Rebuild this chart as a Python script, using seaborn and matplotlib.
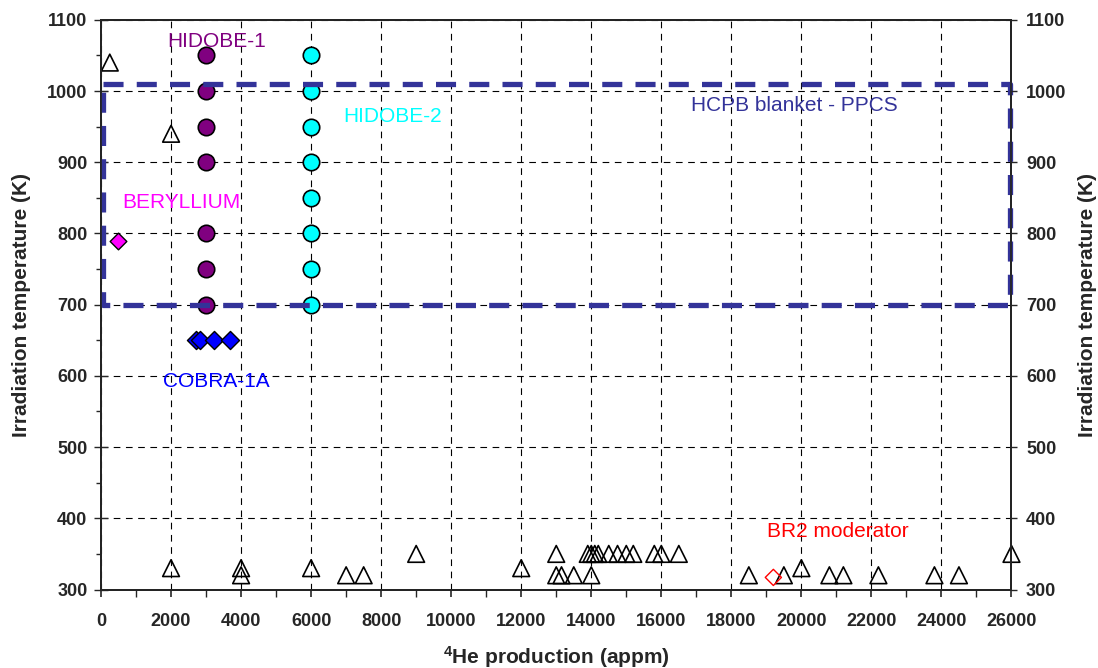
import matplotlib
matplotlib.use("Agg")
import matplotlib.pyplot as plt
import seaborn as sns
from matplotlib.ticker import MultipleLocator

# ---------------- data ----------------
tri_x = [250, 2000, 2000, 4000, 4000, 6000, 7000, 7500, 9000, 12000,
         13000, 13000, 13150, 13500, 14000,
         13900, 14000, 14100, 14200, 14500, 14750, 15000, 15200, 15800, 16000, 16500,
         18500, 19500, 20000, 20800, 21200, 22200, 23800, 24500, 26000]
tri_y = [1040, 940, 330, 330, 320, 330, 320, 320, 350, 330,
         350, 320, 320, 320, 320,
         350, 350, 350, 350, 350, 350, 350, 350, 350, 350, 350,
         320, 320, 330, 320, 320, 320, 320, 320, 350]

hidobe1_x = [3000, 3000, 3000, 3000, 3000, 3000, 3000]
hidobe1_y = [1050, 1000, 950, 900, 800, 750, 700]

hidobe2_x = [6000, 6000, 6000, 6000, 6000, 6000, 6000, 6000]
hidobe2_y = [1050, 1000, 950, 900, 850, 800, 750, 700]

cobra_x = [2700, 2830, 3230, 3680]
cobra_y = [650, 650, 650, 650]

beryllium_x = [480]
beryllium_y = [790]

br2_x = [19200]
br2_y = [317]

box_x = [50, 25950, 25950, 50, 50]
box_y = [1010, 1010, 700, 700, 1010]

x_ticks = list(range(0, 26001, 2000))
y_ticks = list(range(300, 1101, 100))

# ---------------- style ----------------
sns.set_style("ticks")
plt.rcParams['font.family'] = ['Liberation Sans', 'DejaVu Sans']
plt.rcParams['mathtext.fontset'] = 'custom'
plt.rcParams['mathtext.rm'] = 'Liberation Sans'
plt.rcParams['mathtext.bf'] = 'Liberation Sans:bold'
plt.rcParams['mathtext.default'] = 'bf'

fig = plt.figure(figsize=(10.98, 6.68), dpi=100)
ax = fig.add_axes([0.0920, 0.1175, 0.8292, 0.8528])

ax.set_xlim(0, 26000)
ax.set_ylim(300, 1100)
ax.set_axisbelow(True)
ax.grid(True, which='major', color='black', linestyle=(0, (6, 5)), linewidth=0.8)

# triangles
sns.scatterplot(x=tri_x, y=tri_y, ax=ax, marker='^', s=145, facecolor='none',
                edgecolor='black', linewidth=1.2, clip_on=False, zorder=3)
# HIDOBE-1
sns.scatterplot(x=hidobe1_x, y=hidobe1_y, ax=ax, marker='o', s=140, color='#800080',
                edgecolor='black', linewidth=1.2, clip_on=False, zorder=3)
# HIDOBE-2
sns.scatterplot(x=hidobe2_x, y=hidobe2_y, ax=ax, marker='o', s=140, color='#00FFFF',
                edgecolor='black', linewidth=1.2, clip_on=False, zorder=3)
# COBRA-1A
sns.scatterplot(x=cobra_x, y=cobra_y, ax=ax, marker='D', s=85, color='#0000FF',
                edgecolor='black', linewidth=1.0, clip_on=False, zorder=3)
# Beryllium
sns.scatterplot(x=beryllium_x, y=beryllium_y, ax=ax, marker='D', s=72, color='#FF00FF',
                edgecolor='black', linewidth=1.0, clip_on=False, zorder=3)
# BR2 moderator
sns.scatterplot(x=br2_x, y=br2_y, ax=ax, marker='D', s=68, facecolor='none',
                edgecolor='#FF0000', linewidth=1.0, clip_on=False, zorder=3)

# HCPB blanket box
ax.plot(box_x, box_y, color='#333399', linewidth=3.8, linestyle=(0, (3.8, 2.5)),
        zorder=4, clip_on=False, solid_capstyle='butt', dash_capstyle='butt')

# annotations
ax.text(3300, 1070, 'HIDOBE-1', color='#800080', fontsize=15, ha='center', va='center')
ax.text(8330, 964, 'HIDOBE-2', color='#00FFFF', fontsize=15, ha='center', va='center')
ax.text(2290, 844, 'BERYLLIUM', color='#FF00FF', fontsize=15, ha='center', va='center')
ax.text(3300, 592, 'COBRA-1A', color='#0000FF', fontsize=15, ha='center', va='center')
ax.text(19800, 980, 'HCPB blanket - PPCS', color='#333399', fontsize=15, ha='center', va='center')
ax.text(21050, 382, 'BR2 moderator', color='#FF0000', fontsize=15, ha='center', va='center')

# axes ticks
ax.set_xticks(x_ticks)
ax.set_xticklabels([str(v) for v in x_ticks])
ax.set_yticks(y_ticks)
ax.set_yticklabels([str(v) for v in y_ticks])
ax.xaxis.set_minor_locator(MultipleLocator(1000))
ax.yaxis.set_minor_locator(MultipleLocator(50))
ax.tick_params(axis='x', which='major', direction='out', length=5, width=1.2,
               pad=12, labelsize=13, top=False)
ax.tick_params(axis='x', which='minor', direction='out', length=5, width=1.0, top=False)
ax.tick_params(axis='y', which='major', direction='inout', length=9.5, width=1.0,
               pad=5, labelsize=13, right=False)
ax.tick_params(axis='y', which='minor', direction='out', length=3.8, width=1.0, right=False)
for lab in ax.get_xticklabels() + ax.get_yticklabels():
    lab.set_fontweight('bold')

for sp in ax.spines.values():
    sp.set_linewidth(1.3)
    sp.set_color('black')

ax.set_xlabel(r'$^{4}$He production (appm)', fontsize=15, fontweight='bold', va='center')
ax.xaxis.set_label_coords(0.5, -0.1185)
ax.set_ylabel('Irradiation temperature (K)', fontsize=15, fontweight='bold', va='center')
ax.yaxis.set_label_coords(-0.0868, 0.5)

# right axis
ax2 = ax.twinx()
ax2.set_ylim(300, 1100)
ax2.set_yticks(y_ticks)
ax2.set_yticklabels([str(v) for v in y_ticks])
ax2.tick_params(axis='y', which='major', direction='out', length=4.5, width=1.0,
                pad=6, labelsize=13)
ax2.tick_params(axis='y', which='minor', length=0)
for lab in ax2.get_yticklabels():
    lab.set_fontweight('bold')
for sp in ax2.spines.values():
    sp.set_linewidth(1.3)
ax2.set_ylabel('Irradiation temperature (K)', fontsize=15, fontweight='bold',
               va='center', rotation=90)
ax2.yaxis.set_label_coords(1.083, 0.5)
ax2.grid(False)

fig.savefig('out.png', dpi=100)
